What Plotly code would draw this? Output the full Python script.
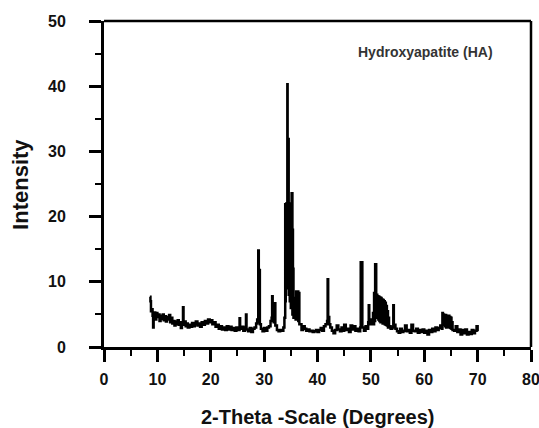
import plotly.graph_objects as go

two_theta = [
    8.6, 8.7, 8.8, 9.0, 9.1, 9.2, 9.3, 9.6, 9.8, 10.0,
    10.2, 10.4, 10.6, 10.8, 11.0, 11.2, 11.4, 11.6, 11.8, 12.0,
    12.2, 12.4, 12.6, 12.8, 13.0, 13.2, 13.4, 13.6, 13.8, 14.0,
    14.2, 14.4, 14.6, 14.8, 14.9, 15.1, 15.3, 15.5, 15.7, 16.0,
    16.2, 16.5, 16.8, 17.0, 17.2, 17.5, 17.8, 18.0, 18.3, 18.6,
    18.9, 19.2, 19.5, 19.8, 20.0, 20.3, 20.6, 20.9, 21.2, 21.5,
    21.8, 22.1, 22.4, 22.7, 23.0, 23.3, 23.6, 23.9, 24.2, 24.5,
    24.8, 25.1, 25.4, 25.5, 25.8, 26.1, 26.4, 26.6, 26.7, 27.0,
    27.3, 27.6, 27.9, 28.2, 28.5, 28.7, 28.8, 28.9, 29.0, 29.1,
    29.2, 29.4, 29.7, 30.0, 30.3, 30.6, 30.9, 31.2, 31.4, 31.5,
    31.6, 31.8, 32.0, 32.1, 32.4, 32.7, 33.0, 33.3, 33.6, 33.8,
    33.9, 33.95, 34.0, 34.05, 34.1, 34.15, 34.2, 34.25, 34.3, 34.35,
    34.4, 34.45, 34.5, 34.55, 34.6, 34.65, 34.7, 34.75, 34.8, 34.85,
    34.9, 34.95, 35.0, 35.05, 35.1, 35.15, 35.2, 35.25, 35.3, 35.35,
    35.4, 35.45, 35.5, 35.6, 35.7, 35.8, 35.9, 36.0, 36.1, 36.2,
    36.3, 36.4, 36.5, 36.6, 36.8, 37.0, 37.3, 37.6, 37.9, 38.2,
    38.5, 38.8, 39.1, 39.4, 39.7, 40.0, 40.3, 40.6, 40.9, 41.2,
    41.5, 41.8, 41.9, 42.0, 42.2, 42.4, 42.7, 43.0, 43.3, 43.6,
    43.9, 44.2, 44.5, 44.8, 45.0, 45.3, 45.6, 45.9, 46.2, 46.5,
    46.8, 47.1, 47.4, 47.7, 48.0, 48.1, 48.3, 48.4, 48.7, 49.0,
    49.3, 49.5, 49.6, 49.7, 49.9, 50.1, 50.4, 50.5, 50.6, 50.7,
    50.8, 50.9, 51.0, 51.1, 51.2, 51.3, 51.4, 51.5, 51.6, 51.7,
    51.8, 51.9, 52.0, 52.1, 52.2, 52.3, 52.4, 52.5, 52.6, 52.7,
    52.8, 52.9, 53.0, 53.1, 53.2, 53.3, 53.4, 53.7, 54.0, 54.2,
    54.3, 54.6, 54.9, 55.2, 55.5, 55.8, 56.1, 56.4, 56.7, 57.0,
    57.3, 57.6, 57.9, 58.2, 58.5, 58.8, 59.1, 59.4, 59.7, 60.0,
    60.3, 60.6, 60.9, 61.2, 61.5, 61.8, 62.1, 62.4, 62.7, 63.0,
    63.3, 63.4, 63.5, 63.6, 63.7, 63.8, 63.9, 64.0, 64.1, 64.2,
    64.3, 64.4, 64.5, 64.6, 64.7, 64.8, 64.9, 65.0, 65.1, 65.2,
    65.3, 65.6, 65.9, 66.2, 66.5, 66.8, 67.1, 67.4, 67.7, 68.0,
    68.3, 68.6, 68.9, 69.2, 69.5, 69.8, 70.0,
]

intensity = [
    7.7, 7.0, 5.5, 5.8, 4.8, 3.0, 5.3, 4.2, 5.2, 4.6,
    5.0, 4.0, 4.8, 4.3, 5.0, 4.1, 4.7, 3.9, 4.6, 4.2,
    4.9, 3.8, 4.5, 3.6, 4.0, 3.3, 3.9, 3.5, 4.1, 3.4,
    3.8, 2.9, 3.5, 6.1, 3.4, 3.9, 3.2, 3.6, 3.0, 3.4,
    3.1, 3.7, 3.2, 3.5, 3.9, 3.3, 3.6, 3.1, 3.8, 3.4,
    4.0, 3.6, 4.2, 3.8, 4.1, 3.5, 3.8, 3.1, 3.4, 2.8,
    3.2, 2.7, 3.0, 2.6, 3.2, 2.7, 3.1, 2.6, 2.9, 2.5,
    3.0, 2.6, 4.4, 2.8, 3.1, 2.5, 3.0, 5.0, 2.7, 2.4,
    2.9, 2.3, 2.8, 3.0, 3.6, 4.2, 3.8, 14.8, 4.5, 11.8,
    3.5, 2.8, 2.4, 2.9, 2.5, 3.0, 3.2, 4.0, 4.5, 7.8,
    4.2, 3.8, 6.7, 3.3, 2.6, 2.4, 2.6, 2.5, 3.0, 4.5,
    4.5, 21.9, 7.0, 21.9, 8.0, 22.0, 9.0, 22.0, 10.0, 40.3,
    11.0, 31.9, 10.0, 31.9, 9.0, 22.0, 8.0, 22.0, 7.0, 21.5,
    7.0, 21.5, 6.0, 20.0, 6.0, 23.6, 6.0, 23.6, 5.0, 18.0,
    5.0, 12.0, 4.5, 6.0, 4.5, 7.5, 4.2, 8.5, 4.5, 8.3,
    8.5, 4.0, 8.3, 3.5, 3.5, 2.6, 3.2, 2.8, 2.5, 2.7,
    2.4, 2.5, 2.3, 2.4, 2.6, 2.3, 2.6, 2.9, 2.5, 3.2,
    3.5, 4.0, 10.4, 4.6, 3.5, 3.0, 2.5, 2.1, 2.6, 3.3,
    2.7, 2.4, 3.0, 2.5, 3.4, 2.6, 2.8, 2.3, 3.3, 2.7,
    3.2, 2.5, 2.8, 2.4, 3.0, 13.0, 13.0, 3.0, 2.5, 3.2,
    2.8, 3.8, 6.4, 3.5, 4.2, 3.5, 5.2, 3.5, 8.3, 4.0,
    12.7, 12.7, 5.0, 8.0, 4.5, 7.8, 4.2, 7.7, 4.0, 7.6,
    3.8, 7.5, 4.0, 7.3, 3.6, 7.2, 3.8, 7.0, 3.5, 6.8,
    3.4, 6.3, 3.3, 5.5, 3.0, 4.5, 3.2, 2.8, 3.0, 6.4,
    3.4, 2.8, 2.4, 2.2, 2.8, 2.3, 2.5, 3.3, 2.4, 2.6,
    2.2, 3.4, 2.5, 2.4, 2.8, 2.2, 2.6, 2.3, 2.7, 2.2,
    2.5, 1.9, 2.6, 2.3, 2.8, 2.4, 3.0, 2.6, 2.9, 3.3,
    2.8, 5.2, 3.5, 5.0, 3.4, 4.6, 3.2, 4.9, 3.0, 4.8,
    3.3, 4.7, 3.1, 4.8, 3.0, 4.6, 2.9, 4.5, 2.8, 3.8,
    2.6, 2.5, 3.2, 2.3, 2.7, 1.9, 2.6, 2.1, 2.7, 1.9,
    2.3, 2.0, 2.6, 2.1, 2.5, 3.2, 2.4,
]

x_ticks = [0, 10, 20, 30, 40, 50, 60, 70, 80]
y_ticks = [0, 10, 20, 30, 40, 50]

FONT = "Liberation Sans, Arial, sans-serif"
INK = "#111111"

fig = go.Figure()
fig.add_trace(go.Scatter(
    x=two_theta, y=intensity, mode="lines",
    line=dict(color="#000000", width=2.5, shape="hv"),
    showlegend=False, hoverinfo="skip",
))

axis_common = dict(
    showgrid=False, zeroline=False, showline=True, linecolor="#000000", linewidth=3,
    ticks="outside", ticklen=12, tickwidth=2.5, tickcolor="#000000",
    tickfont=dict(family=FONT, size=16, color=INK, weight="bold"),
    ticklabeloverflow="allow", automargin=False,
    minor=dict(ticks="outside", ticklen=6, tickwidth=2, tickcolor="#000000", dtick=5, showgrid=False),
)

fig.update_xaxes(range=[0, 80], tickmode="array", tickvals=x_ticks, ticktext=[str(v) for v in x_ticks],
                 ticklabelstandoff=4, **axis_common)
fig.update_yaxes(range=[0, 50], tickmode="array", tickvals=y_ticks, ticktext=[str(v) for v in y_ticks],
                 ticklabelstandoff=20, **axis_common)

# top and right frame
fig.add_shape(type="line", xref="paper", yref="paper", x0=0, x1=1, y0=1, y1=1,
              line=dict(color="#000000", width=2.5))
fig.add_shape(type="line", xref="paper", yref="paper", x0=1, x1=1, y0=0, y1=1,
              line=dict(color="#000000", width=2.5))

fig.add_annotation(x=60.3, y=45.2, xref="x", yref="y", text="Hydroxyapatite (HA)", showarrow=False,
                   font=dict(family=FONT, size=14, color="#333333", weight="bold"))
fig.add_annotation(x=0.5, y=-0.215, xref="paper", yref="paper", text="2-Theta -Scale (Degrees)",
                   showarrow=False, yanchor="middle",
                   font=dict(family=FONT, size=20, color=INK, weight="bold"))
fig.add_annotation(x=-0.197, y=0.5, xref="paper", yref="paper", text="Intensity", textangle=-90,
                   showarrow=False, xanchor="center",
                   font=dict(family=FONT, size=22, color=INK, weight="bold"))

fig.update_layout(
    width=539, height=428,
    margin=dict(l=104, r=8, t=21, b=81),
    paper_bgcolor="#ffffff", plot_bgcolor="#ffffff",
)

fig.write_html("out.html")
